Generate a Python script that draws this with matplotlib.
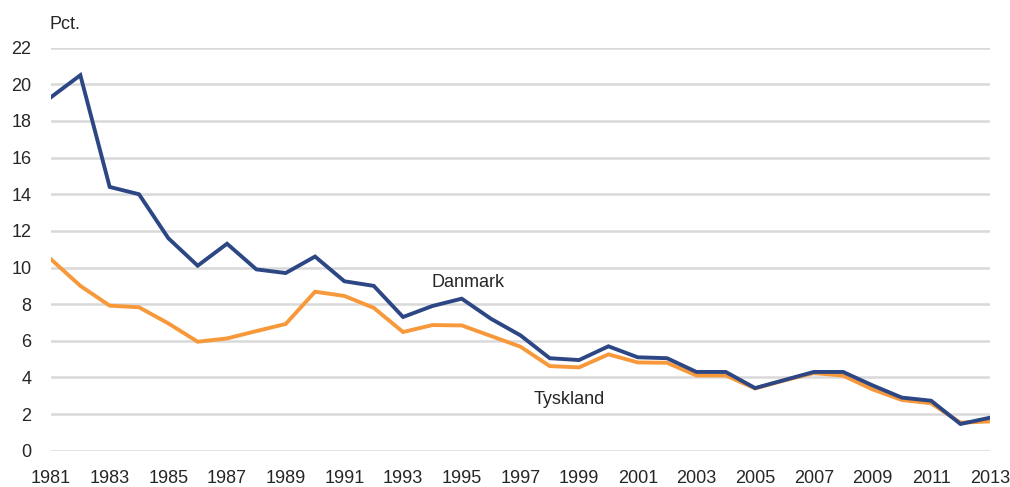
import numpy as np
import matplotlib.pyplot as plt
from matplotlib import font_manager

# ---------------------------------------------------------
# Data, pct.
# ---------------------------------------------------------
years = list(range(1981, 2014))

danmark = [19.3, 20.5, 14.4, 14.0, 11.6, 10.1, 11.3, 9.9, 9.7, 10.6,
           9.25, 9.0, 7.3, 7.9, 8.3, 7.2, 6.3, 5.05, 4.95, 5.7,
           5.1, 5.05, 4.3, 4.3, 3.42, 3.86, 4.3, 4.3, 3.57, 2.9,
           2.73, 1.46, 1.8]

tyskland = [10.45, 9.0, 7.92, 7.83, 6.95, 5.95, 6.13, 6.53, 6.92, 8.68,
            8.45, 7.8, 6.48, 6.86, 6.84, 6.26, 5.68, 4.62, 4.55, 5.26,
            4.82, 4.8, 4.11, 4.11, 3.4, 3.84, 4.24, 4.1, 3.35, 2.77,
            2.59, 1.53, 1.6]

x_ticks = list(range(1981, 2014, 2))
y_ticks = list(range(0, 23, 2))

# smal skrift som i originalen, hvis den findes
names = {f.name for f in font_manager.fontManager.ttflist}
if 'Liberation Sans Narrow' in names:
    plt.rcParams['font.family'] = ['Liberation Sans Narrow', 'DejaVu Sans']
    fs = 14.5
else:
    plt.rcParams['font.family'] = ['Liberation Sans', 'DejaVu Sans']
    fs = 13

txt = '#262626'

fig = plt.figure(figsize=(10.1, 4.87), dpi=100)
ax = fig.add_axes([0.0505, 0.0745, 0.9295, 0.8275])

ax.plot(years, tyskland, color='#F7993A', lw=2.8, solid_joinstyle='miter', zorder=3)
ax.plot(years, danmark, color='#2D4785', lw=2.8, solid_joinstyle='miter', zorder=4)

ax.set_xlim(1981, 2013)
ax.set_ylim(0, 22)
ax.set_xticks(x_ticks)
ax.set_yticks(y_ticks)
ax.yaxis.grid(True, color='#D9D9D9', lw=1.8)
ax.set_axisbelow(True)
for s in ax.spines.values():
    s.set_visible(False)
ax.tick_params(length=0, labelsize=fs, labelcolor=txt)
ax.tick_params(axis='x', pad=14)
ax.tick_params(axis='y', pad=14)

ax.text(1995.2, 9.2, 'Danmark', fontsize=fs, color=txt, ha='center', va='center')
ax.text(1998.65, 2.77, 'Tyskland', fontsize=fs, color=txt, ha='center', va='center')
fig.text(0.049, 0.95, 'Pct.', fontsize=fs, color=txt, ha='left', va='center')

plt.savefig('out.png', dpi=100)
